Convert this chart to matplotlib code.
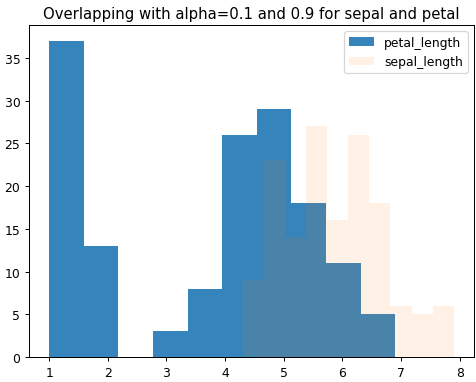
import matplotlib
matplotlib.use("Agg")
import matplotlib.pyplot as plt
import numpy as np

petal_edges = np.linspace(1.0, 6.9, 11)
petal_counts = [37, 13, 0, 3, 8, 26, 29, 18, 11, 5]
sepal_edges = np.linspace(4.3, 7.9, 11)
sepal_counts = [9, 23, 14, 27, 16, 26, 18, 6, 5, 6]

DPI = 89
fig = plt.figure(figsize=(476/DPI, 383/DPI), dpi=DPI)
ax = fig.add_axes([29/476, 1-358/383, (474-29)/476, (358-26)/383])
ax.hist(petal_edges[:-1], bins=petal_edges, weights=petal_counts, alpha=0.9, label='petal_length')
ax.hist(sepal_edges[:-1], bins=sepal_edges, weights=sepal_counts, alpha=0.1, label='sepal_length')
ax.set_title('Overlapping with alpha=0.1 and 0.9 for sepal and petal')
ax.legend(loc='upper right')
fig.savefig('out.png', dpi=DPI)
